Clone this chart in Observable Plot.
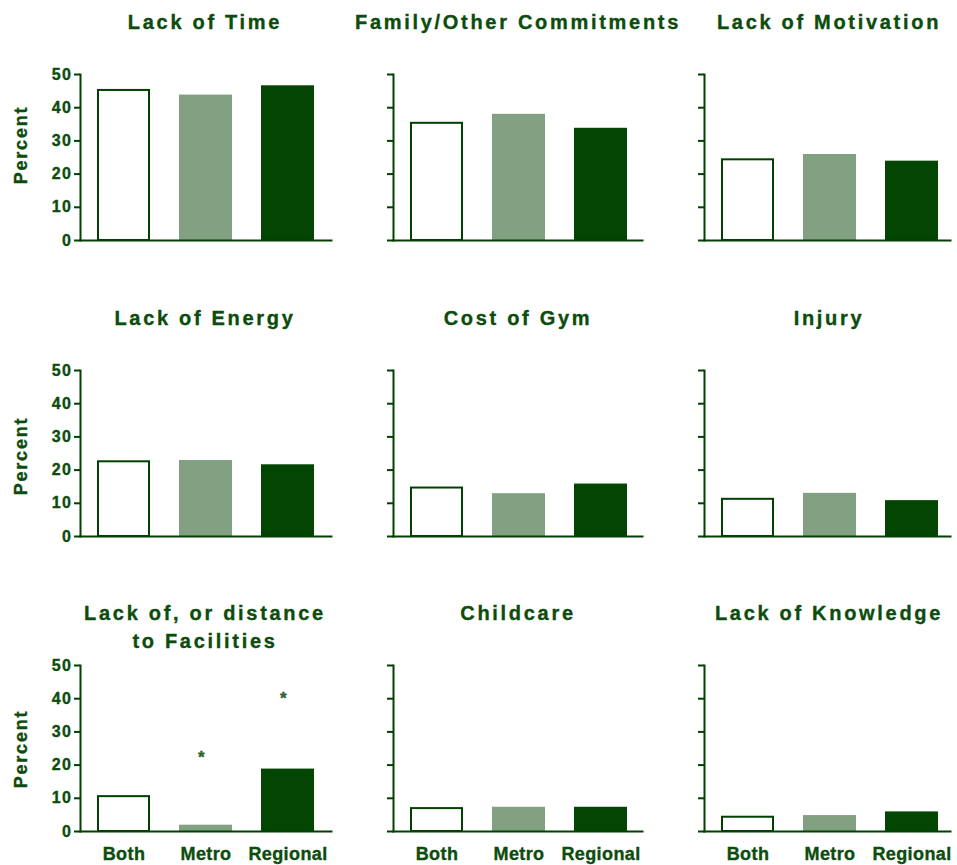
<!DOCTYPE html>
<html>
<head>
<meta charset="utf-8">
<script src="https://cdn.jsdelivr.net/npm/d3@7"></script>
<script src="https://cdn.jsdelivr.net/npm/@observablehq/plot@0.6"></script>
<style>
  html, body { margin: 0; padding: 0; background: #fff; }
  #chart { position: relative; width: 957px; height: 865px; overflow: hidden;
           font-family: "Liberation Sans", Arial, sans-serif; color: #0c4c0c; }
  .panel { position: absolute; }
  .title { position: absolute; width: 400px; text-align: center; font-size: 20px; font-weight: bold;
           letter-spacing: 2.7px; line-height: 28px; white-space: pre; -webkit-text-stroke: 0.35px #0c4c0c; }
  .ylab { position: absolute; width: 120px; height: 22px; line-height: 22px; text-align: center;
          font-size: 18px; font-weight: bold; letter-spacing: 1.8px; transform: rotate(-90deg);
          -webkit-text-stroke: 0.35px #0c4c0c; }
  .panel svg text { stroke: #0c4c0c; stroke-width: 0.35px; }
  .panel svg g[aria-label="x-axis tick label"] { letter-spacing: 0.4px; }
</style>
</head>
<body>
<div id="chart"></div>
<script>
// ---- data ----
const categories = [
  "Lack of Time", "Family/Other Commitments", "Lack of Motivation",
  "Lack of Energy", "Cost of Gym", "Injury",
  "Lack of, or distance\nto Facilities", "Childcare", "Lack of Knowledge"
];
const groups = ["Both", "Metro", "Regional"];
const both     = [45.5, 35.6, 24.6, 22.8, 14.9, 11.5, 10.8, 7.2, 4.6];
const metro    = [43.8, 38.0, 25.9, 22.9, 12.9, 13.0, 1.9, 7.3, 4.8];
const regional = [46.6, 33.8, 23.9, 21.6, 15.8, 10.8, 18.8, 7.3, 5.9];
const yTicks = [0, 10, 20, 30, 40, 50];
const yLabel = "Percent";
// significance markers
const sigCategory = "Lack of, or distance\nto Facilities";
const sigGroups = ["Metro", "Regional"];
const sigValues = [23.5, 41.2];

// ---- styling ----
const textColor = "#0c4c0c";
const axisColor = "#004000";
const fills = ["#ffffff", "#82a082", "#034503"];

const axisXs = [80, 393, 704];
const y50s = [74, 370, 665];
const ylabCenters = [145, 456, 749];
const plotH = 166, mTop = 10, mBottom = 34, mLeft = 80, bandW = 251;
const axisLens = [251, 249, 246];

const chart = document.getElementById("chart");

categories.forEach((cat, i) => {
  const row = Math.floor(i / 3), col = i % 3;
  const data = groups.map((g, j) => ({
    group: g,
    value: [both, metro, regional][j][i]
  }));
  const marks = [
    Plot.barY(data.filter(d => d.group !== "Both"), {x: "group", y: "value", fill: "group"}),
    Plot.barY(data.filter(d => d.group === "Both"), {
      x: "group", y: "value", fill: "white", stroke: axisColor, strokeWidth: 2,
      insetLeft: 1, insetRight: 1, insetTop: 1
    }),
    Plot.axisY({
      ticks: yTicks, tickSize: 6, tickPadding: 2, stroke: axisColor, strokeWidth: 2,
      fill: textColor, fontSize: 16, fontWeight: "bold",
      tickFormat: col === 0 ? (d => String(d)) : (() => ""), label: null
    }),
    Plot.frame({anchor: "left", stroke: axisColor, strokeWidth: 2}),
    Plot.frame({anchor: "bottom", stroke: axisColor, strokeWidth: 2})
  ];
  if (row === 2) {
    marks.push(Plot.axisX({
      tickSize: 0, tickPadding: 16, fill: textColor, fontSize: 18, fontWeight: "bold", label: null
    }));
  }
  if (cat === sigCategory) {
    marks.push(Plot.text(sigGroups.map((g, k) => ({group: g, value: sigValues[k]})), {
      x: "group", y: "value", text: () => "*", fill: "#3a6a3a", fontSize: 17, fontWeight: "bold",
      lineAnchor: "middle", dy: 4, dx: -4
    }));
  }
  const svg = Plot.plot({
    width: mLeft + axisLens[col],
    height: mTop + plotH + mBottom,
    marginLeft: mLeft, marginRight: 0, marginTop: mTop, marginBottom: mBottom,
    x: {domain: groups, range: [mLeft, mLeft + bandW], paddingInner: 0.357, paddingOuter: 0.2, axis: null},
    y: {domain: [0, 50], axis: null},
    color: {domain: groups, range: fills},
    style: {fontFamily: "'Liberation Sans', Arial, sans-serif", color: textColor,
            background: "transparent", overflow: "visible", letterSpacing: "1.5px"},
    marks
  });
  const wrap = document.createElement("div");
  wrap.className = "panel";
  wrap.style.left = (axisXs[col] - mLeft) + "px";
  wrap.style.top = (y50s[row] - mTop) + "px";
  wrap.appendChild(svg);
  chart.appendChild(wrap);

  const t = document.createElement("div");
  t.className = "title";
  t.textContent = cat;
  t.style.left = (axisXs[col] + 125 - 200) + "px";
  t.style.top = (y50s[row] - 66) + "px";
  chart.appendChild(t);

  if (col === 0) {
    const yl = document.createElement("div");
    yl.className = "ylab";
    yl.textContent = yLabel;
    yl.style.left = (21 - 60) + "px";
    yl.style.top = (ylabCenters[row] - 11) + "px";
    chart.appendChild(yl);
  }
});
</script>
</body>
</html>
